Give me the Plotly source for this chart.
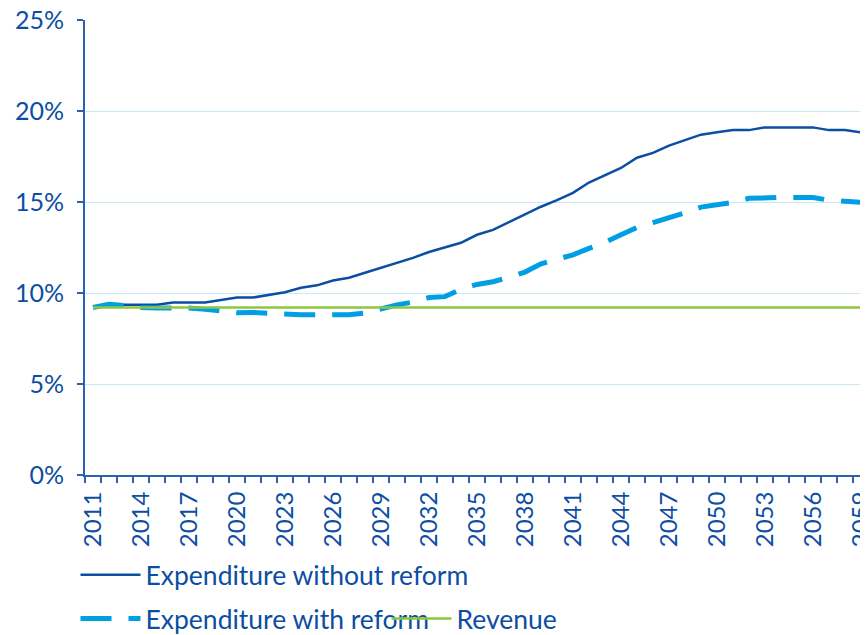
import plotly.graph_objects as go

years = list(range(2011, 2061))

without_reform = [
    9.20, 9.33, 9.35, 9.35, 9.35, 9.48, 9.48, 9.48, 9.62, 9.75,
    9.75, 9.90, 10.04, 10.29, 10.42, 10.69, 10.84, 11.11, 11.38, 11.65,
    11.93, 12.25, 12.51, 12.76, 13.20, 13.47, 13.89, 14.32, 14.74, 15.10,
    15.50, 16.07, 16.47, 16.87, 17.43, 17.70, 18.10, 18.41, 18.70, 18.83,
    18.95, 18.95, 19.10, 19.10, 19.10, 19.10, 18.95, 18.95, 18.83, 18.68,
]

with_reform = [
    9.20, 9.38, 9.30, 9.20, 9.18, 9.18, 9.18, 9.10, 9.02, 8.92,
    8.93, 8.88, 8.80, 8.80, 8.80, 8.80, 8.80, 8.90, 9.15, 9.35,
    9.50, 9.75, 9.80, 10.20, 10.47, 10.62, 10.87, 11.15, 11.60, 11.87,
    12.10, 12.45, 12.78, 13.20, 13.60, 13.87, 14.10, 14.40, 14.72, 14.87,
    14.98, 15.20, 15.25, 15.25, 15.25, 15.25, 15.10, 15.02, 14.98, 14.98,
]

revenue = [9.2] * len(years)

label_years = list(range(2011, 2060, 3))
y_ticks = [0, 5, 10, 15, 20, 25]

DARK = "#0b4ea2"
LIGHT = "#009fe3"
GREEN = "#8dc63f"
GRID = "#cbe8f7"
AXIS = "#2b62b0"
FONT = "Lato"

fig = go.Figure()
fig.add_trace(go.Scatter(x=years, y=without_reform, name="Expenditure without reform",
                         mode="lines", line=dict(color=DARK, width=2.5), legend="legend"))
fig.add_trace(go.Scatter(x=years, y=with_reform, name="Expenditure with reform",
                         mode="lines", line=dict(color=LIGHT, width=5, dash="31px,17px"),
                         legend="legend2"))
fig.add_trace(go.Scatter(x=years, y=revenue, name="Revenue",
                         mode="lines", line=dict(color=GREEN, width=2.5), legend="legend2"))

# the page adds an 8px body margin, margins here are compensated for it
fig.update_layout(
    width=868, height=635,
    margin=dict(l=77, r=0, t=12, b=156),
    paper_bgcolor="white", plot_bgcolor="white",
    font=dict(family=FONT, color=DARK, size=24),
    showlegend=True,
    legend=dict(x=-0.012, y=-0.22, xanchor="left", yanchor="middle",
                orientation="h", itemwidth=60, font=dict(size=26.5, color=DARK),
                bgcolor="rgba(0,0,0,0)"),
    legend2=dict(x=-0.012, y=-0.316, xanchor="left", yanchor="middle",
                 orientation="h", itemwidth=60, entrywidth=236,
                 font=dict(size=26.5, color=DARK), bgcolor="rgba(0,0,0,0)"),
)

fig.update_xaxes(
    range=[2010.5, 2059.94], automargin=False,
    tickvals=label_years, ticktext=[str(y) for y in label_years],
    tickangle=-90, ticks="", showgrid=False, zeroline=False,
    showline=True, linecolor=AXIS, linewidth=2, ticklabelstandoff=5,
    ticklabeloverflow="allow",
    tickfont=dict(size=24, color=DARK),
    minor=dict(ticks="outside", tick0=2010.5, dtick=1, ticklen=6,
               tickcolor=AXIS, tickwidth=1.5, showgrid=False),
)
fig.update_yaxes(
    range=[0, 25], automargin=False,
    tickvals=y_ticks, ticktext=[f"{v}%" for v in y_ticks],
    ticks="outside", ticklen=6, tickcolor=AXIS, tickwidth=1.5, ticklabelstandoff=8,
    ticklabeloverflow="allow",
    showgrid=True, gridcolor=GRID, gridwidth=1, zeroline=False,
    showline=True, linecolor=AXIS, linewidth=2,
    tickfont=dict(size=25, color=DARK),
)

fig.write_html("out.html")
